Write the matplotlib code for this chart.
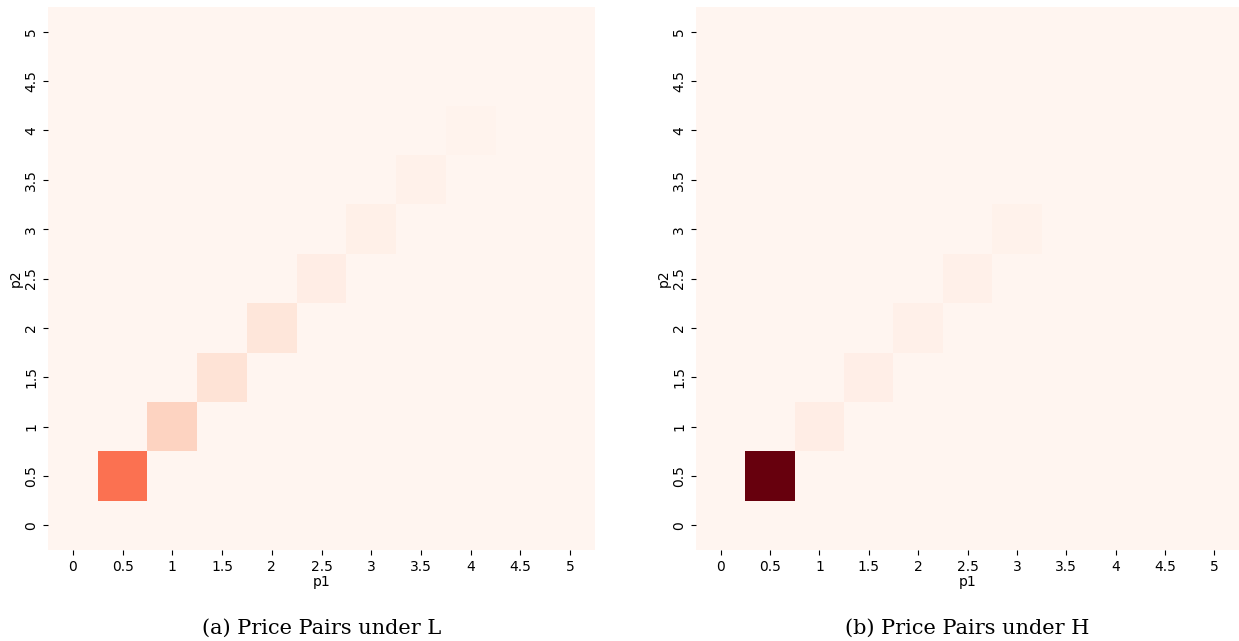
import numpy as np
import matplotlib

matplotlib.use("Agg")
import matplotlib.pyplot as plt
import seaborn as sns

PRICES = ["0", "0.5", "1", "1.5", "2", "2.5", "3", "3.5", "4", "4.5", "5"]

# share of periods spent at each symmetric price pair (p1 == p2)
DIAG_L = [0.0, 0.48, 0.17, 0.11, 0.09, 0.05, 0.035, 0.025, 0.015, 0.0, 0.0]
DIAG_H = [0.0, 1.00, 0.05, 0.04, 0.03, 0.03, 0.02, 0.0, 0.0, 0.0, 0.0]
CAPTIONS = ["(a) Price Pairs under L", "(b) Price Pairs under H"]

W, H = 1239, 641
fig = plt.figure(figsize=(W / 100, H / 100), dpi=100)
boxes = [(48, 7, 547, 543), (696, 7, 543, 543)]
vmax = max(max(DIAG_L), max(DIAG_H))

for diag, caption, (x0, y0, w, h) in zip([DIAG_L, DIAG_H], CAPTIONS, boxes):
    ax = fig.add_axes([x0 / W, 1 - (y0 + h) / H, w / W, h / H])
    grid = np.diag(diag)
    sns.heatmap(grid, ax=ax, cmap="Reds", vmin=0, vmax=vmax, cbar=False,
                xticklabels=PRICES, yticklabels=PRICES)
    ax.invert_yaxis()
    ax.tick_params(labelsize=10)
    ax.set_xticklabels(PRICES, rotation=0)
    ax.set_yticklabels(PRICES, rotation=90, va="center")
    ax.set_xlabel("p1", fontsize=10, labelpad=1)
    ax.set_ylabel("p2", fontsize=10, labelpad=1)
    fig.text((x0 + w / 2) / W, 1 - 628 / H, caption, ha="center", va="center",
             fontsize=15, family="DejaVu Serif")

fig.savefig("out.png", dpi=100, facecolor="white")
